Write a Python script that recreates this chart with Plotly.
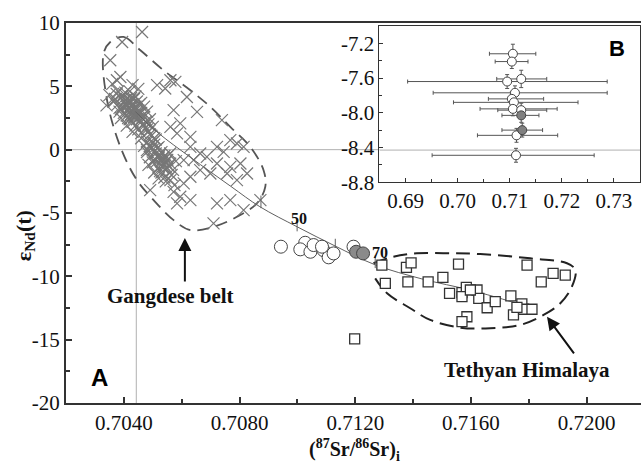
import plotly.graph_objects as go

# ---------------- data ----------------
# Gangdese belt (crosses)
gang_x = [0.70463, 0.70394, 0.70353, 0.70388, 0.70376, 0.70561, 0.70578, 0.70515, 0.70543, 0.70618,
          0.70653, 0.70572, 0.70739, 0.70595, 0.70630, 0.70584, 0.70561, 0.70768, 0.70722, 0.70745,
          0.70791, 0.70814, 0.70630, 0.70664, 0.70687, 0.70641, 0.70607, 0.70803, 0.70768, 0.70722,
          0.70757, 0.70826, 0.70791, 0.70699, 0.70664, 0.70630, 0.70607, 0.70561, 0.70491, 0.70572,
          0.70595, 0.70630, 0.70584, 0.70722, 0.70768, 0.70814, 0.70710, 0.70872, 0.70520, 0.70532,
          0.70503, 0.70480, 0.70549,
          0.7036, 0.7038, 0.7039, 0.7040, 0.7041, 0.7042, 0.7043, 0.7044, 0.7045, 0.7046,
          0.7047, 0.7048, 0.7040, 0.7041, 0.7042, 0.7043, 0.7044, 0.7045, 0.7046, 0.7047,
          0.7038, 0.7039, 0.7040, 0.7041, 0.7042, 0.7043, 0.7044, 0.7045, 0.7046, 0.7037,
          0.7042, 0.7044, 0.7046, 0.7048, 0.7049, 0.7050, 0.7035, 0.7034, 0.7047, 0.7045,
          0.7043, 0.7039, 0.7041, 0.7043, 0.7049, 0.7051,
          0.7042, 0.7043, 0.7044, 0.7045, 0.7043, 0.7044, 0.7042, 0.7041, 0.7044, 0.7045,
          0.70415, 0.70425, 0.70435, 0.70445, 0.70455, 0.70405, 0.70395, 0.70385, 0.70415, 0.70425,
          0.70435, 0.70445, 0.70455, 0.70465, 0.70475, 0.70485, 0.70395, 0.70405, 0.70435, 0.70455,
          0.70465, 0.70475, 0.70445, 0.70425, 0.70375, 0.70365, 0.70385, 0.70495, 0.70505, 0.70485,
          0.7048, 0.7049, 0.7050, 0.7051, 0.7052, 0.7053, 0.7054, 0.7055, 0.7050, 0.7052,
          0.7053, 0.7054, 0.7055, 0.7056, 0.7057, 0.7048, 0.7049, 0.7050, 0.7052, 0.7053,
          0.7054, 0.7056, 0.7058, 0.7046, 0.7047,
          0.70505, 0.70515, 0.70525, 0.70535, 0.70545, 0.70495, 0.70515, 0.70535, 0.70555, 0.70565,
          0.70525, 0.70545, 0.70505, 0.70485, 0.70575]
gang_y = [9.29, 8.50, 7.06, 5.74, 5.48, 5.48, 5.35, 5.09, 4.83, 4.16,
          2.98, 3.12, 2.33, 2.07, 1.01, 1.28, 1.80, 0.75, 0.22, -0.17,
          0.49, 0.22, 0.22, -0.30, -0.57, -0.83, -0.83, -1.09, -1.36, -1.09,
          -1.88, -1.88, -2.40, -1.88, -1.62, -2.14, -2.66, -2.40, -3.19, -3.33,
          -3.72, -3.98, -4.24, -4.24, -3.98, -4.77, -5.82, -3.98, -2.27, -1.36,
          -0.83, -0.04, -0.57,
          5.2, 4.6, 4.1, 3.8, 3.5, 3.3, 3.0, 2.8, 2.5, 2.2,
          1.9, 1.6, 4.4, 4.0, 3.9, 3.6, 3.4, 3.1, 2.9, 2.6,
          3.6, 3.2, 2.9, 2.7, 2.4, 2.2, 1.9, 1.6, 1.3, 4.0,
          4.6, 4.2, 3.7, 3.0, 2.4, 1.8, 4.3, 3.5, 3.4, 4.8,
          5.1, 2.5, 1.9, 1.4, 1.2, 0.8,
          3.2, 3.4, 3.1, 2.9, 2.7, 3.3, 3.0, 3.4, 2.6, 2.8,
          3.7, 3.5, 3.3, 3.2, 2.9, 3.9, 3.4, 3.0, 2.5, 2.8,
          2.6, 2.4, 2.3, 2.0, 1.7, 1.4, 4.2, 4.5, 4.0, 3.6,
          2.7, 2.2, 3.8, 4.1, 4.4, 3.8, 3.3, 1.1, 0.9, 2.0,
          0.6, 0.3, 0.0, -0.3, -0.6, -0.9, -1.2, -1.5, 0.6, 0.2,
          -0.2, -0.5, -0.8, -1.1, -1.6, -0.2, -0.6, -1.0, -1.4, -1.8,
          -2.2, -0.3, -0.9, 0.9, 0.3,
          0.4, 0.1, -0.4, -0.7, -1.0, 0.1, -0.9, -1.3, -1.3, -2.0,
          -1.7, -2.5, -1.8, -1.2, -2.8]

# Tethyan Himalaya (squares)
teth_x = [0.71292, 0.71304, 0.71377, 0.71393, 0.71382, 0.71452, 0.71503, 0.71557, 0.71526, 0.71198,
          0.71586, 0.71569, 0.71794, 0.71569, 0.71584, 0.71621, 0.71627, 0.71656, 0.71684, 0.71569,
          0.71598, 0.71738, 0.71747, 0.71776, 0.71782, 0.71811, 0.71759, 0.71843, 0.71884, 0.71926]
teth_y = [-9.11, -10.55, -9.29, -8.93, -10.43, -10.43, -10.08, -9.03, -11.34, -14.94,
          -13.19, -13.58, -9.11, -11.29, -10.87, -11.08, -11.74, -12.48, -12.00, -11.60,
          -11.08, -11.55, -13.05, -12.18, -12.60, -12.60, -12.45, -10.43, -9.77, -9.90]

# This study (open circles) and grey circles
open_x = [0.70943, 0.71027, 0.71010, 0.71045, 0.71056, 0.71090, 0.71108, 0.71125, 0.71085, 0.71194]
open_y = [-7.66, -7.35, -7.87, -8.06, -7.53, -7.93, -8.50, -8.19, -7.66, -7.66]
grey_x = [0.71203, 0.71227]
grey_y = [-8.06, -8.19]

# mixing curve
mix_x = [0.7044, 0.7052, 0.7063, 0.7077, 0.7087, 0.7100, 0.7113, 0.7127, 0.7143, 0.7160, 0.7174, 0.7180]
mix_y = [3.0, 1.3, -0.6, -2.9, -4.5, -6.1, -7.6, -9.1, -10.2, -11.1, -12.0, -12.4]
mixtick_x = [0.70874, 0.70999, 0.71131, 0.71269]
mixtick_y = [-4.12, -5.95, -7.53, -8.85]

# field outlines
gang_outline_x = [0.70353, 0.70399, 0.70457, 0.70537, 0.70630, 0.70699, 0.70768, 0.70837, 0.70883, 0.70889,
                  0.70860, 0.70791, 0.70710, 0.70630, 0.70572, 0.70503, 0.70445, 0.70388, 0.70342, 0.70330, 0.70353]
gang_outline_y = [8.50, 8.90, 7.85, 6.27, 4.69, 3.38, 1.80, 0.22, -1.62, -2.93,
                  -4.24, -5.30, -6.09, -6.35, -5.56, -3.98, -2.40, 0.22, 3.90, 7.59, 8.50]
teth_outline_x = [0.71263, 0.71332, 0.71413, 0.71517, 0.71632, 0.71805, 0.71932, 0.71961, 0.71949, 0.71909,
                  0.71851, 0.71770, 0.71667, 0.71563, 0.71459, 0.71390, 0.71310, 0.71269]
teth_outline_y = [-8.97, -8.45, -8.18, -8.18, -8.24, -8.58, -8.97, -9.50, -10.82, -12.13,
                  -13.05, -13.84, -14.10, -14.05, -13.44, -12.52, -11.34, -10.16]

# inset B data
ins_x = [0.7106, 0.7104, 0.7095, 0.7122, 0.7110, 0.7104, 0.7108, 0.7106, 0.7122, 0.7113, 0.7122, 0.7124, 0.7112]
ins_y = [-7.32, -7.41, -7.64, -7.61, -7.77, -7.84, -7.88, -7.955, -7.97, -8.26, -8.03, -8.20, -8.49]
ins_xlo = [0.7061, 0.7072, 0.6904, 0.7075, 0.6953, 0.7059, 0.6992, 0.7043, 0.7077, 0.7038, 0.7085, 0.7085, 0.6951]
ins_xhi = [0.7150, 0.7135, 0.7287, 0.7171, 0.7287, 0.7165, 0.7231, 0.7191, 0.7171, 0.7192, 0.7156, 0.7163, 0.7262]
ins_yerr = [0.11, 0.08, 0.08, 0.10, 0.08, 0.08, 0.08, 0.08, 0.08, 0.08, 0.08, 0.08, 0.08]
ins_fill = ["white", "white", "white", "white", "white", "white", "white", "white", "white", "white",
            "#808080", "#808080", "white"]

x_ticks = [0.7040, 0.7080, 0.7120, 0.7160, 0.7200]
y_ticks = [-20, -15, -10, -5, 0, 5, 10]
ins_xticks = [0.69, 0.70, 0.71, 0.72, 0.73]
ins_yticks = [-8.8, -8.4, -8.0, -7.6, -7.2]

# --------------- figure ---------------
W, H = 641, 465
L, R, T, B = 66, 0, 23, 62
SERIF = "Liberation Serif, Times New Roman, serif"
SANS = "Liberation Sans, Arial, sans-serif"

fig = go.Figure()

# reference lines
fig.add_trace(go.Scatter(x=[0.702, 0.71284], y=[0, 0], mode="lines",
                         line=dict(color="#b0b0b0", width=1), hoverinfo="skip", showlegend=False))
fig.add_trace(go.Scatter(x=[0.70443, 0.70443], y=[-20, 10], mode="lines",
                         line=dict(color="#b0b0b0", width=1), hoverinfo="skip", showlegend=False))

# outlines
fig.add_trace(go.Scatter(x=gang_outline_x, y=gang_outline_y, mode="lines", line_shape="spline",
                         line=dict(color="#555555", width=1.8, dash="12px,7px"), showlegend=False))
fig.add_trace(go.Scatter(x=teth_outline_x, y=teth_outline_y, mode="lines", line_shape="spline",
                         line=dict(color="#222222", width=2, dash="14px,7px"), showlegend=False))

# crosses
fig.add_trace(go.Scatter(x=gang_x, y=gang_y, mode="markers",
                         marker=dict(symbol="x-thin", size=12, line=dict(color="#777777", width=1.2)),
                         showlegend=False))

# mixing line
fig.add_trace(go.Scatter(x=mix_x, y=mix_y, mode="lines", line_shape="spline",
                         line=dict(color="#606060", width=1), showlegend=False))
fig.add_trace(go.Scatter(x=mixtick_x, y=mixtick_y, mode="markers",
                         marker=dict(symbol="line-ns", size=9, line=dict(color="#606060", width=1)),
                         showlegend=False))

# squares
fig.add_trace(go.Scatter(x=teth_x, y=teth_y, mode="markers",
                         marker=dict(symbol="square", size=10, color="white",
                                     line=dict(color="#333333", width=1.3)), showlegend=False))
# circles
fig.add_trace(go.Scatter(x=open_x, y=open_y, mode="markers",
                         marker=dict(symbol="circle", size=13, color="white",
                                     line=dict(color="#444444", width=1)), showlegend=False))
fig.add_trace(go.Scatter(x=grey_x, y=grey_y, mode="markers",
                         marker=dict(symbol="circle", size=13, color="#8a8a8a",
                                     line=dict(color="#444444", width=1)), showlegend=False))

# inset
fig.add_trace(go.Scatter(x=[0.685, 0.735], y=[-8.43, -8.43], mode="lines", xaxis="x2", yaxis="y2",
                         line=dict(color="#b0b0b0", width=1), showlegend=False))
fig.add_trace(go.Scatter(
    x=ins_x, y=ins_y, mode="markers", xaxis="x2", yaxis="y2",
    error_x=dict(type="data", symmetric=False,
                 array=[h - v for h, v in zip(ins_xhi, ins_x)],
                 arrayminus=[v - l for l, v in zip(ins_xlo, ins_x)],
                 color="#555555", thickness=1, width=2),
    error_y=dict(type="data", array=ins_yerr, color="#555555", thickness=1, width=2),
    marker=dict(symbol="circle", size=9, color=ins_fill, line=dict(color="#444444", width=1)),
    showlegend=False))

tickfont = dict(family=SERIF, size=21, color="#111111")
axis_common = dict(showgrid=False, zeroline=False, showline=True, linecolor="#333333",
                   ticks="inside", tickcolor="#333333", tickfont=tickfont)

fig.update_layout(
    width=W, height=H, margin=dict(l=L, r=R, t=T, b=B),
    paper_bgcolor="white", plot_bgcolor="white",
    font=dict(family=SERIF, size=21, color="#111111"),
    xaxis=dict(range=[0.702, 0.702 + 575 / 28925], domain=[0, 1], mirror=True, linewidth=2,
               tickvals=x_ticks, ticktext=[f"{v:.4f}" for v in x_ticks], ticklen=6, tickwidth=1.5,
               minor=dict(dtick=0.002, tick0=0.702, ticks="inside", ticklen=4, tickcolor="#333333"),
               **axis_common),
    yaxis=dict(range=[-20, 10], domain=[0, 1], linewidth=2,
               tickvals=y_ticks, ticktext=[str(v) for v in y_ticks], ticklen=6, tickwidth=1.5,
               minor=dict(dtick=2.5, tick0=0, ticks="inside", ticklen=4, tickcolor="#333333"),
               **axis_common),
    xaxis2=dict(range=[0.685, 0.735], domain=[0.5452, 0.9983], anchor="y2", mirror=True, linewidth=1,
                tickvals=ins_xticks, ticktext=[f"{v:.2f}" for v in ins_xticks], ticklen=4,
                minor=dict(dtick=0.005, tick0=0.685, ticks="inside", ticklen=3, tickcolor="#333333"),
                **axis_common),
    yaxis2=dict(range=[-8.8, -7.0], domain=[0.5811, 0.9921], anchor="x2", mirror=True, linewidth=1,
                tickvals=ins_yticks, ticktext=[f"{v:.1f}" for v in ins_yticks], ticklen=4,
                minor=dict(dtick=0.2, tick0=-8.8, ticks="inside", ticklen=3, tickcolor="#333333"),
                **axis_common),
)

bold_serif = dict(family=SERIF, size=21, color="#111111")
ann = [
    dict(x=-0.0713, y=0.439, xref="paper", yref="paper", text="<b>ε<sub>Nd</sub>(t)</b>",
         xanchor="center", yanchor="middle",
         textangle=-90, showarrow=False, font=dict(family=SERIF, size=22, color="#111111")),
    dict(x=0.5026, y=-0.123, xref="paper", yref="paper",
         text="<b>(<sup>87</sup>Sr/<sup>86</sup>Sr)<sub>i</sub></b>",
         xanchor="center", yanchor="middle",
         showarrow=False, font=dict(family=SERIF, size=20, color="#111111")),
    dict(x=0.71005, y=-5.44, xref="x", yref="y", text="<b>50</b>", showarrow=False,
         xanchor="center", yanchor="middle", font=dict(family=SERIF, size=16, color="#111111")),
    dict(x=0.71287, y=-8.12, xref="x", yref="y", text="<b>70</b>", showarrow=False,
         xanchor="center", yanchor="middle", font=dict(family=SERIF, size=16, color="#111111")),
    dict(x=0.70560, y=-11.55, xref="x", yref="y", text="<b>Gangdese belt</b>", showarrow=False,
         xanchor="center", yanchor="middle", font=bold_serif),
    dict(x=0.71794, y=-17.39, xref="x", yref="y", text="<b>Tethyan Himalaya</b>", showarrow=False,
         xanchor="center", yanchor="middle", font=bold_serif),
    dict(x=0.70611, y=-6.98, ax=0.70611, ay=-10.53, xref="x", yref="y", axref="x", ayref="y",
         text="", showarrow=True, arrowhead=2, arrowsize=1.3, arrowwidth=2, arrowcolor="#111111"),
    dict(x=0.71863, y=-13.2, ax=0.71960, ay=-16.2, xref="x", yref="y", axref="x", ayref="y",
         text="", showarrow=True, arrowhead=2, arrowsize=1.3, arrowwidth=2, arrowcolor="#111111"),
    dict(x=0.059, y=0.068, xref="paper", yref="paper", text="<b>A</b>", showarrow=False,
         xanchor="center", yanchor="middle", font=dict(family=SANS, size=24, color="#000000")),
    dict(x=0.958, y=0.933, xref="paper", yref="paper", text="<b>B</b>", showarrow=False,
         xanchor="center", yanchor="middle", font=dict(family=SANS, size=22, color="#000000")),
]
fig.update_layout(annotations=ann)

fig.write_html("out.html")
